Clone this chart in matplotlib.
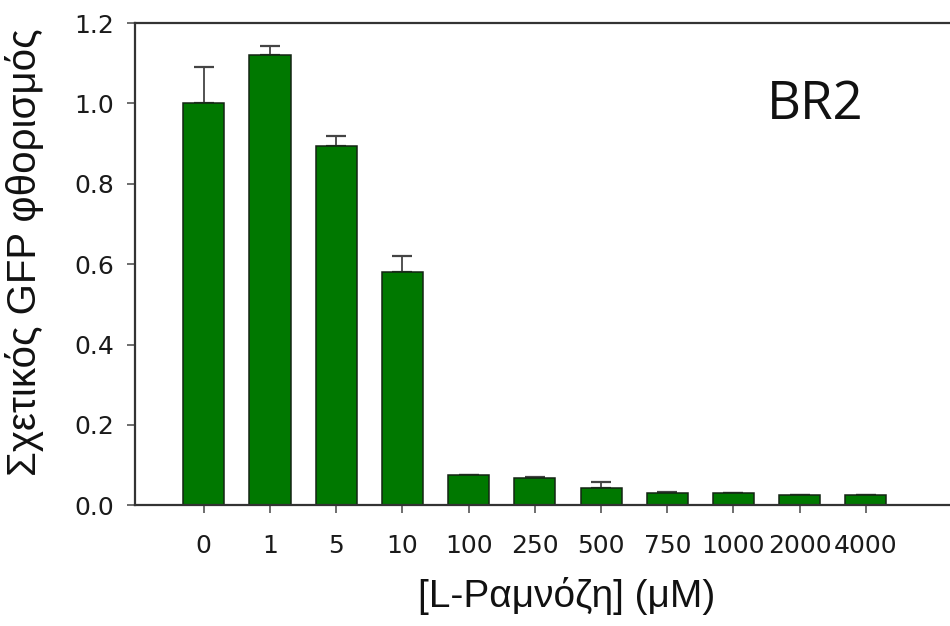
import matplotlib
matplotlib.use("Agg")
import matplotlib.pyplot as plt
import numpy as np

concentrations = ["0", "1", "5", "10", "100", "250", "500", "750", "1000", "2000", "4000"]
fluorescence = [1.00, 1.12, 0.895, 0.58, 0.075, 0.068, 0.042, 0.030, 0.030, 0.025, 0.025]
errors = [0.09, 0.022, 0.025, 0.04, 0.0, 0.003, 0.016, 0.004, 0.0, 0.0, 0.0]

fig = plt.figure(figsize=(9.5, 6.26), dpi=100)
ax = fig.add_axes([0.142, 0.193, 0.858, 0.770])

x = np.arange(len(concentrations))
ax.bar(x, fluorescence, width=0.62, color="#007800", edgecolor="#142414", linewidth=1.1, zorder=2)
ax.errorbar(x, fluorescence, yerr=[np.zeros(len(errors)), errors], fmt="none",
            ecolor="#444444", elinewidth=1.3, capsize=7, capthick=1.6, zorder=1)

ax.set_xlim(-1.04, 11.27)
ax.set_ylim(0, 1.2)
ax.set_yticks([0.0, 0.2, 0.4, 0.6, 0.8, 1.0, 1.2])
ax.set_yticklabels(["%.1f" % v for v in ax.get_yticks()])
ax.set_xticks(x)
ax.set_xticklabels(concentrations)

for side in ["left", "bottom", "top"]:
    ax.spines[side].set_linewidth(1.6)
    ax.spines[side].set_color("#333333")
ax.spines["right"].set_visible(False)

ax.tick_params(axis="both", direction="out", length=6, width=1.2, color="#555555",
               labelsize=18, labelcolor="#1a1a1a")
ax.tick_params(axis="x", pad=15)
ax.tick_params(axis="y", pad=9)
for lab in ax.get_xticklabels() + ax.get_yticklabels():
    lab.set_family("DejaVu Sans")

ax.set_xlabel("[L-Ραμνόζη] (μM)", family="Liberation Sans", fontsize=28, color="#111111")
ax.xaxis.set_label_coords(0.53, -0.15)
ax.set_ylabel("Σχετικός GFP φθορισμός", family="Liberation Sans", fontsize=29, color="#111111")
ax.yaxis.set_label_coords(-0.112, 0.525)

ax.text(0.835, 0.83, "BR2", transform=ax.transAxes, family="Open Sans", fontsize=38,
        ha="center", va="center", color="#111111")

fig.savefig("out.png", dpi=100)
